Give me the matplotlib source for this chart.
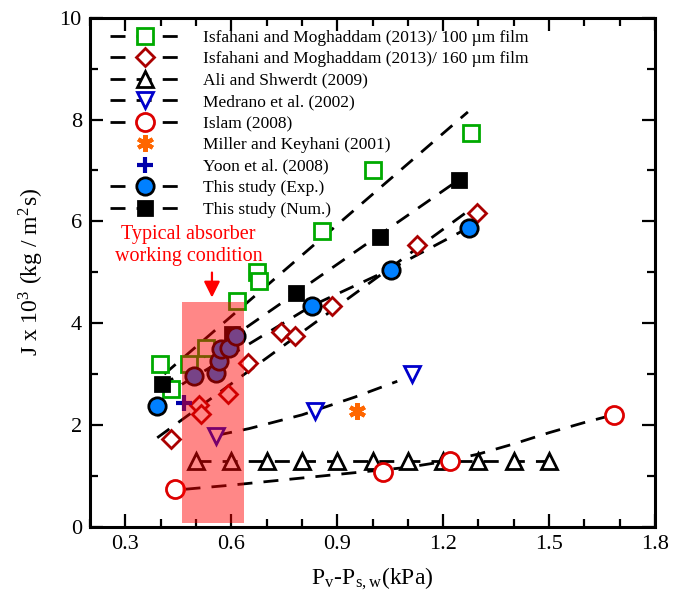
import matplotlib
matplotlib.use("Agg")
import matplotlib.pyplot as plt
from matplotlib.lines import Line2D
from matplotlib.patches import Rectangle
from matplotlib.ticker import MultipleLocator

plt.rcParams['font.family'] = ['Liberation Serif', 'DejaVu Serif']
plt.rcParams['mathtext.fontset'] = 'stix'

# --- data ------------------------------------------------------------------
# Isfahani and Moghaddam (2013) / 100 um film
isf100_x = [0.397, 0.428, 0.48, 0.528, 0.616, 0.673, 0.679, 0.858, 1.0, 1.279]
isf100_y = [3.19, 2.70, 3.19, 3.51, 4.43, 5.0, 4.83, 5.81, 7.0, 7.74]
isf100_fit_x = [0.41, 1.27]
isf100_fit_y = [3.0, 8.15]

# Isfahani and Moghaddam (2013) / 160 um film
isf160_x = [0.43, 0.508, 0.513, 0.59, 0.648, 0.74, 0.78, 0.884, 1.126, 1.297]
isf160_y = [1.72, 2.39, 2.21, 2.61, 3.21, 3.82, 3.75, 4.33, 5.54, 6.16]
isf160_fit_x = [0.39, 1.27]
isf160_fit_y = [1.75, 6.2]

# Ali and Shwerdt (2009)
ali_x = [0.5, 0.6, 0.7, 0.8, 0.9, 1.0, 1.1, 1.2, 1.3, 1.4, 1.5]
ali_y = [1.3, 1.3, 1.3, 1.3, 1.3, 1.3, 1.3, 1.3, 1.3, 1.3, 1.3]
ali_fit_x = [0.5, 1.5]
ali_fit_y = [1.3, 1.3]

# Medrano et al. (2002)
med_x = [0.556, 0.836, 1.112]
med_y = [1.78, 2.27, 3.0]
med_fit_x = [0.56, 0.65, 0.8, 0.95, 1.07]
med_fit_y = [1.8, 1.93, 2.2, 2.55, 2.86]

# Islam (2008)
islam_x = [0.44, 1.03, 1.22, 1.685]
islam_y = [0.74, 1.07, 1.29, 2.19]
islam_fit_x = [0.47, 0.6, 0.7, 0.8, 0.9, 1.0, 1.1, 1.2, 1.3, 1.4, 1.5, 1.6, 1.66]
islam_fit_y = [0.74, 0.82, 0.89, 0.96, 1.03, 1.1, 1.17, 1.28, 1.43, 1.63, 1.85, 2.05, 2.16]

# Miller and Keyhani (2001), Yoon et al. (2008)
miller_x = [0.955]
miller_y = [2.27]
yoon_x = [0.465]
yoon_y = [2.44]

# This study (Exp.)
exp_x = [0.39, 0.494, 0.557, 0.565, 0.57, 0.593, 0.613, 0.827, 1.052, 1.272]
exp_y = [2.37, 2.96, 3.02, 3.25, 3.49, 3.52, 3.75, 4.34, 5.05, 5.87]
exp_fit_x = [0.46, 0.6, 0.827, 1.05, 1.27]
exp_fit_y = [2.8, 3.38, 4.34, 5.06, 5.87]

# This study (Num.)
num_x = [0.403, 0.603, 0.784, 1.02, 1.246]
num_y = [2.80, 3.79, 4.6, 5.69, 6.82]
num_fit_x = [0.40, 1.245]
num_fit_y = [2.75, 6.82]

# typical absorber working condition band
band_x = (0.46, 0.635)
band_y = (0.07, 4.42)

x_ticks = [0.3, 0.6, 0.9, 1.2, 1.5, 1.8]
y_ticks = [0, 2, 4, 6, 8, 10]

# --- styles -----------------------------------------------------------------
DASH = (5.4, 4.0)
LW = 2.0
MEW = 2.0

series = [
    # label, xs, ys, fit, marker style, zorder
    ("Isfahani and Moghaddam (2013)/ 100 \u00b5m film", isf100_x, isf100_y,
     (isf100_fit_x, isf100_fit_y),
     dict(marker='s', ms=11, mfc='white', mec='#00aa00', mew=MEW), 3),
    ("Isfahani and Moghaddam (2013)/ 160 \u00b5m film", isf160_x, isf160_y,
     (isf160_fit_x, isf160_fit_y),
     dict(marker='D', ms=9.5, mfc='white', mec='#aa0000', mew=MEW), 3),
    ("Ali and Shwerdt (2009)", ali_x, ali_y, (ali_fit_x, ali_fit_y),
     dict(marker='^', ms=11, mfc='white', mec='black', mew=MEW), 3),
    ("Medrano et al. (2002)", med_x, med_y, (med_fit_x, med_fit_y),
     dict(marker='v', ms=11, mfc='white', mec='#0000cc', mew=MEW), 3),
    ("Islam (2008)", islam_x, islam_y, (islam_fit_x, islam_fit_y),
     dict(marker='o', ms=13, mfc='white', mec='#dd0000', mew=MEW), 3),
    ("Miller and Keyhani (2001)", miller_x, miller_y, None,
     dict(marker=(6, 2, 0), ms=12, mfc='#ff6600', mec='#ff6600', mew=3), 3),
    ("Yoon et al. (2008)", yoon_x, yoon_y, None,
     dict(marker='+', ms=12, mfc='#0000aa', mec='#0000aa', mew=3), 3),
    ("This study (Exp.)", exp_x, exp_y, (exp_fit_x, exp_fit_y),
     dict(marker='o', ms=12.5, mfc='#0080ff', mec='black', mew=MEW), 5),
    ("This study (Num.)", num_x, num_y, (num_fit_x, num_fit_y),
     dict(marker='s', ms=10, mfc='black', mec='black', mew=MEW), 4),
]

fig, ax = plt.subplots(figsize=(6.83, 5.92), dpi=100)
fig.subplots_adjust(left=0.132, right=0.959, top=0.970, bottom=0.110)

handles = []
for label, xs, ys, fit, mstyle, z in series:
    if fit is not None:
        ax.plot(fit[0], fit[1], color='black', lw=LW, dashes=DASH, zorder=2)
    ax.plot(xs, ys, linestyle='none', zorder=z, **mstyle)
    if fit is not None:
        h = Line2D([], [], color='black', lw=LW, dashes=DASH, **mstyle)
    else:
        h = Line2D([], [], linestyle='none', **mstyle)
    handles.append(h)

ax.add_patch(Rectangle((band_x[0], band_y[0]), band_x[1] - band_x[0],
                       band_y[1] - band_y[0], facecolor='red', alpha=0.47,
                       edgecolor='none', zorder=10))
ax.annotate('', xy=(0.545, 4.45), xytext=(0.545, 5.05),
            arrowprops=dict(arrowstyle='-|>', color='red', lw=1.6,
                            mutation_scale=24), zorder=11)
ax.text(0.479, 5.53, 'Typical absorber\nworking condition', color='red',
        ha='center', va='center', fontsize=14.5, zorder=11)

leg = ax.legend(handles, [s[0] for s in series], loc='upper left',
                bbox_to_anchor=(0.035, 0.977), frameon=False, fontsize=12.5,
                borderpad=0, borderaxespad=0, handlelength=4.0,
                handletextpad=1.35, labelspacing=0.31)

ax.set_xlim(0.2, 1.8)
ax.set_ylim(0, 10)
ax.set_xticks(x_ticks)
ax.set_xticklabels([f"{t:.1f}" for t in x_ticks])
ax.set_yticks(y_ticks)
ax.xaxis.set_minor_locator(MultipleLocator(0.1))
ax.yaxis.set_minor_locator(MultipleLocator(1))
ax.tick_params(which='both', direction='in', top=True, right=True,
               labelsize=16, width=1.6, pad=6)
ax.tick_params(which='major', length=9.5)
ax.tick_params(which='minor', length=6)
for sp in ax.spines.values():
    sp.set_linewidth(2.2)

ax.set_xlabel(r"P$_\mathregular{v}$-P$_\mathregular{s,w}$(kPa)", fontsize=17,
              labelpad=8)
ax.set_ylabel(r"J x 10$^\mathregular{3}$ (kg / m$^\mathregular{2}$s)",
              fontsize=17, labelpad=10)

fig.savefig("out.png", dpi=100)
